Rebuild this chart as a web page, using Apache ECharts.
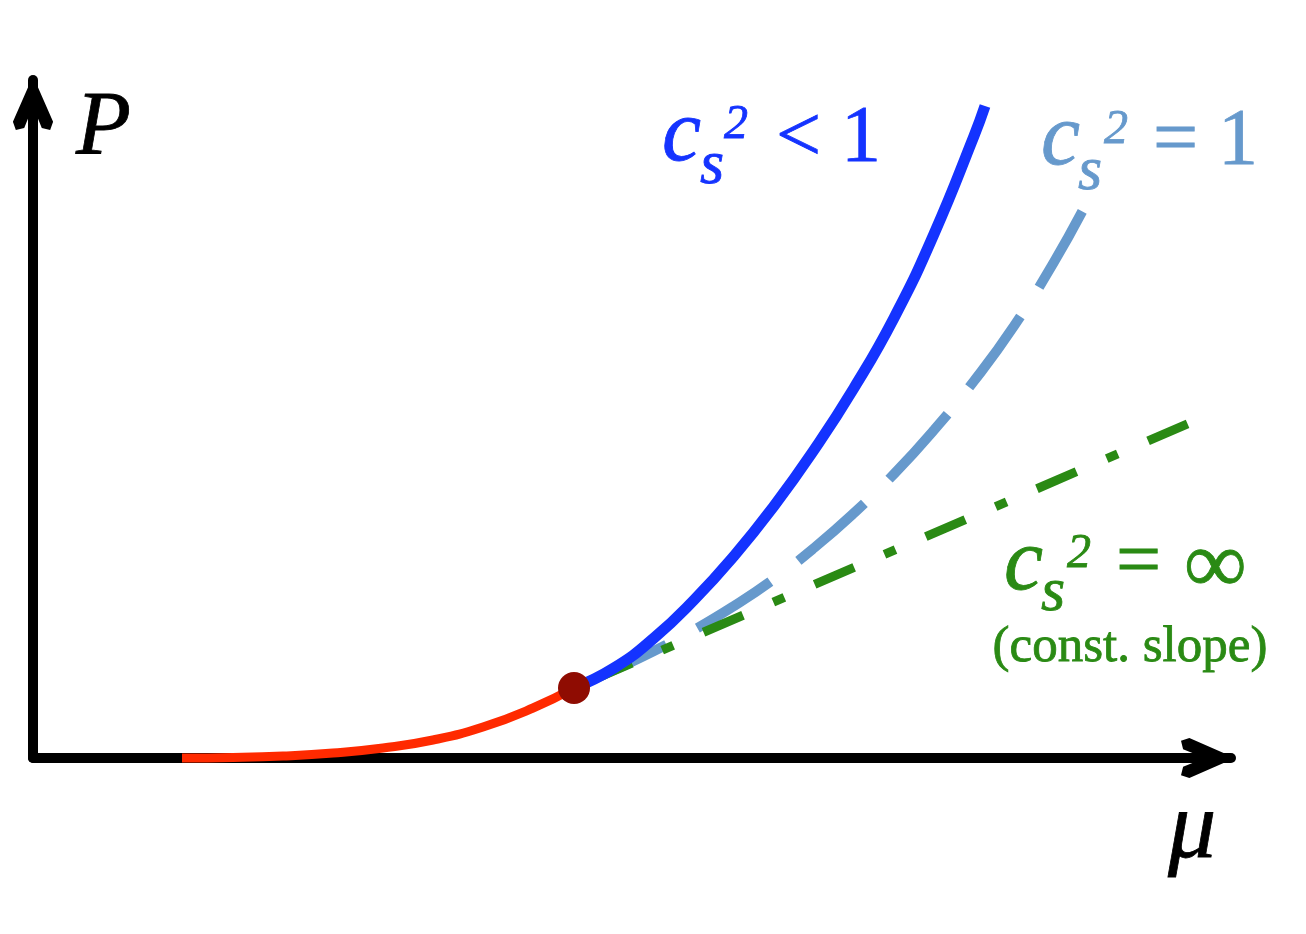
<!DOCTYPE html>
<html>
<head>
<meta charset="utf-8">
<script src="https://cdn.jsdelivr.net/npm/echarts@6/dist/echarts.min.js"></script>
<style>html,body{margin:0;padding:0;background:#fff}#chart{width:1306px;height:934px}</style>
</head>
<body>
<div id="chart"></div>
<script>
// ---- data (mu, P) ----
const redMu   = [1.49, 2.0, 2.5, 3.0, 3.5, 4.0, 4.5, 5.0, 5.41];
const redP    = [0.0, 0.005, 0.02, 0.05, 0.10, 0.18, 0.31, 0.50, 0.70];

const blueMu  = [5.41, 5.81, 6.21, 6.61, 7.01, 7.41, 7.81, 8.21, 8.61, 9.01, 9.41, 9.52];
const blueP   = [0.70, 0.90, 1.20, 1.58, 2.02, 2.52, 3.08, 3.70, 4.40, 5.24, 6.22, 6.52];

const lightMu = [5.41, 5.81, 6.21, 6.61, 7.01, 7.41, 7.81, 8.21, 8.61, 9.01, 9.41, 9.81, 10.21, 10.50];
const lightP  = [0.70, 0.88, 1.07, 1.28, 1.52, 1.79, 2.10, 2.45, 2.84, 3.28, 3.77, 4.32, 4.96, 5.48];

const greenMu = [5.41, 11.59];
const greenP  = [0.70, 3.36];

const dotMu = [5.41];
const dotP  = [0.70];

const axisNames = ['P', 'μ'];

function zip(a, b) { return a.map((v, i) => [v, b[i]]); }

const arrowPath = 'path://M0,-18 L24,36.5 L20.5,46.5 L10.5,44 L0,18 L-10.5,44 L-20.5,46.5 L-24,36.5 Z';

const SERIF = '"Liberation Serif", "Times New Roman", serif';
const BLUE = '#1433ff', LIGHT = '#6699cc', GREEN = '#2a8a14', RED = '#ff2a00', DOT = '#8f0c02';

function txt(x, y, text, size, color, italic, align) {
  return {
    type: 'text', x: x, y: y, z: 100,
    style: {
      text: text,
      font: (italic ? 'italic ' : '') + size + 'px ' + SERIF,
      fill: color,
      stroke: color,
      lineWidth: 0.8,
      align: align || 'left',
      verticalAlign: 'middle'
    }
  };
}

const chart = echarts.init(document.getElementById('chart'));
chart.setOption({
  animation: false,
  backgroundColor: '#ffffff',
  grid: { left: 33, right: 75, top: 80, bottom: 176 },
  xAxis: {
    type: 'value', min: 0, max: 11.98,
    axisLine: { show: true, onZero: true, lineStyle: { color: '#000', width: 10 },
      symbol: ['none', arrowPath], symbolSize: [45, 54], symbolOffset: [0, -23] },
    axisTick: { show: false }, axisLabel: { show: false }, splitLine: { show: false }
  },
  yAxis: {
    type: 'value', min: 0, max: 6.78,
    axisLine: { show: true, lineStyle: { color: '#000', width: 10 },
      symbol: ['none', arrowPath], symbolSize: [45, 54], symbolOffset: [0, -23] },
    axisTick: { show: false }, axisLabel: { show: false }, splitLine: { show: false }
  },
  series: [
    { type: 'line', data: zip(lightMu, lightP), smooth: true, showSymbol: false, clip: false, z: 2,
      lineStyle: { color: LIGHT, width: 10, type: [87, 35], dashOffset: 107 } },
    { type: 'line', data: zip(greenMu, greenP), showSymbol: false, clip: false, z: 3,
      lineStyle: { color: GREEN, width: 9, type: [43, 33, 12, 33], dashOffset: 101 } },
    { type: 'line', data: zip(blueMu, blueP), smooth: true, showSymbol: false, clip: false, z: 4,
      lineStyle: { color: BLUE, width: 11 } },
    { type: 'line', data: zip(redMu, redP), smooth: true, showSymbol: false, clip: false, z: 5,
      lineStyle: { color: RED, width: 9 } },
    { type: 'scatter', data: zip(dotMu, dotP), symbolSize: 32, z: 6,
      itemStyle: { color: DOT, opacity: 1 } }
  ],
  graphic: [
    txt(76, 130, axisNames[0], 90, '#000', true),
    txt(1168, 832, axisNames[1], 96, '#000', true),
    // c_s^2 < 1
    txt(662, 137, 'c', 88, BLUE, true),
    txt(700, 167, 's', 62, BLUE, true),
    txt(724, 125, '2', 48, BLUE, true),
    txt(776, 140, '< 1', 80, BLUE, false),
    // c_s^2 = 1
    txt(1041, 141, 'c', 88, LIGHT, true),
    txt(1078, 173, 's', 62, LIGHT, true),
    txt(1104, 130, '2', 48, LIGHT, true),
    txt(1153, 143, '= 1', 80, LIGHT, false),
    // c_s^2 = inf
    txt(1004, 566, 'c', 88, GREEN, true),
    txt(1041, 594, 's', 62, GREEN, true),
    txt(1067, 554, '2', 48, GREEN, true),
    txt(1116, 565, '= ', 80, GREEN, false),
    txt(1184, 569, '∞', 88, GREEN, false),
    txt(1130, 648, '(const. slope)', 51, GREEN, false, 'center')
  ]
});
</script>
</body>
</html>
